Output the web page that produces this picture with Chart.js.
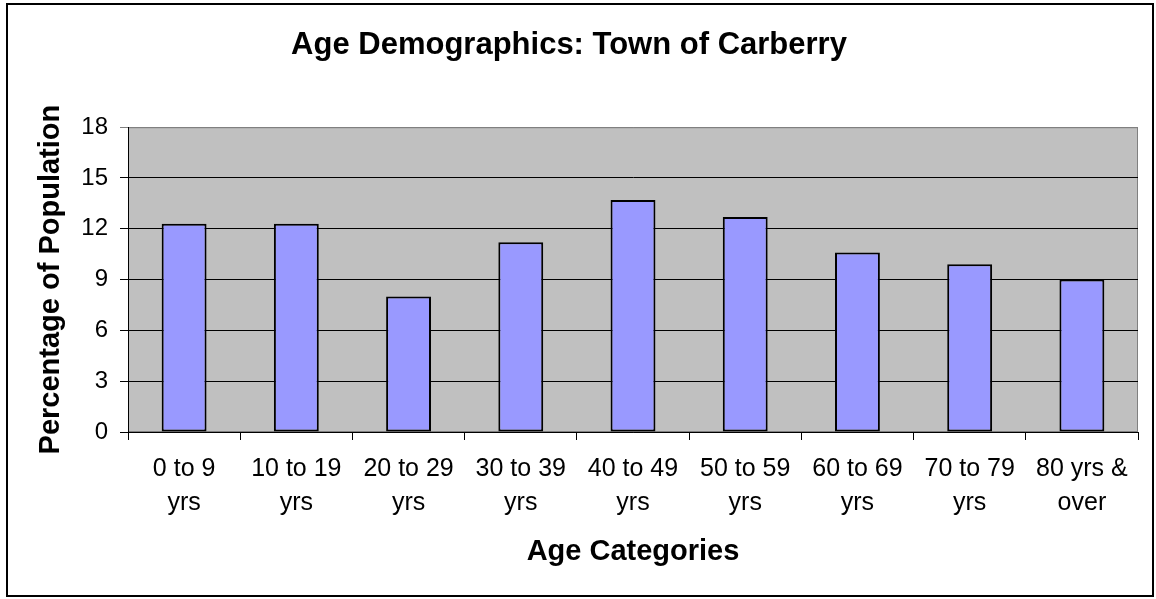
<!DOCTYPE html>
<html>
<head>
<meta charset="utf-8">
<script src="https://cdn.jsdelivr.net/npm/chart.js@4/dist/chart.umd.min.js"></script>
<style>
  body { margin: 0; background: #ffffff; }
  #frame { position: absolute; left: 6px; top: 3px; width: 1144px; height: 590px; border: 2px solid #000000; }
  #ageChart { position: absolute; left: 0; top: 0; }
</style>
</head>
<body>
<div id="frame"></div>
<canvas id="ageChart" width="1156" height="599"></canvas>
<script>
// chart data
const ageCategories = [
  ['0 to 9', 'yrs'], ['10 to 19', 'yrs'], ['20 to 29', 'yrs'],
  ['30 to 39', 'yrs'], ['40 to 49', 'yrs'], ['50 to 59', 'yrs'],
  ['60 to 69', 'yrs'], ['70 to 79', 'yrs'], ['80 yrs &', 'over']
];
const populationPercent = [12.3, 12.3, 8.0, 11.2, 13.7, 12.7, 10.6, 9.9, 9.0];
const yTicks = [0, 3, 6, 9, 12, 15, 18];
// ==================

const fontFamily = '"Liberation Sans", Arial, sans-serif';

// grey plot area like the old excel charts
const plotBackground = {
  id: 'plotBackground',
  beforeDraw(chart) {
    const {ctx, chartArea} = chart;
    ctx.save();
    ctx.fillStyle = '#c0c0c0';
    ctx.fillRect(chartArea.left, chartArea.top, chartArea.width, chartArea.height);
    ctx.strokeStyle = '#808080';
    ctx.lineWidth = 1;
    ctx.strokeRect(chartArea.left + 0.5, chartArea.top + 0.5, chartArea.width - 1, chartArea.height - 1);
    ctx.restore();
  }
};

const ctx = document.getElementById('ageChart').getContext('2d');
const ageChart = new Chart(ctx, {
  type: 'bar',
  data: {
    labels: ageCategories,
    datasets: [{
      label: 'Percentage of Population',
      data: populationPercent,
      backgroundColor: '#9999ff',
      borderColor: '#000000',
      borderWidth: 2,
      borderSkipped: false,
      barPercentage: 0.4,
      categoryPercentage: 1.0
    }]
  },
  options: {
    responsive: false,
    animation: false,
    layout: {
      padding: {left: 0, right: 18, top: 0, bottom: 0}
    },
    plugins: {
      legend: {display: false},
      tooltip: {enabled: false},
      title: {
        display: true,
        text: 'Age Demographics: Town of Carberry',
        color: '#000000',
        font: {family: fontFamily, size: 31, weight: 'bold', lineHeight: 1.2},
        padding: {top: 27, bottom: 63}
      }
    },
    scales: {
      x: {
        afterFit: scale => { scale.height = 167; },
        grid: {
          display: true,
          drawOnChartArea: false,
          drawTicks: true,
          tickLength: 8,
          color: '#000000',
          offset: true
        },
        border: {display: true, color: '#000000', width: 1},
        ticks: {
          color: '#000000',
          autoSkip: false,
          maxRotation: 0,
          minRotation: 0,
          padding: 12,
          font: {family: fontFamily, size: 25, lineHeight: 1.36}
        },
        title: {
          display: true,
          text: 'Age Categories',
          color: '#000000',
          font: {family: fontFamily, size: 29, weight: 'bold', lineHeight: 1.2},
          padding: {top: 0, bottom: 30}
        }
      },
      y: {
        min: 0,
        max: 18,
        afterFit: scale => { scale.width = 128; },
        afterBuildTicks: scale => { scale.ticks = yTicks.map(v => ({value: v})); },
        grid: {
          color: c => (c.tick && c.tick.value === 18) ? '#808080' : '#000000',
          lineWidth: 1,
          drawTicks: true,
          tickLength: 8
        },
        border: {display: true, color: '#000000', width: 1},
        ticks: {
          color: '#000000',
          padding: 12,
          font: {family: fontFamily, size: 24}
        },
        title: {
          display: true,
          text: 'Percentage of Population',
          color: '#000000',
          font: {family: fontFamily, size: 29, weight: 'bold', lineHeight: 1.2},
          padding: {top: 34, bottom: 0}
        }
      }
    }
  },
  plugins: [plotBackground]
});
</script>
</body>
</html>
